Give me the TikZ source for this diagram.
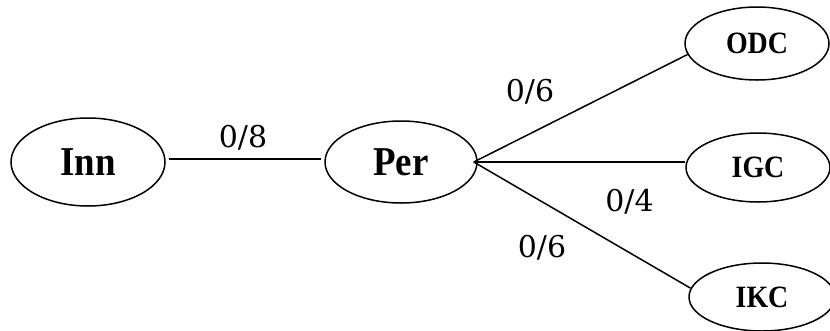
\documentclass[tikz,border=0pt]{standalone}
\usepackage{fontspec}
\setmainfont{Liberation Serif}
\newfontfamily\nodefont[FakeStretch=0.9]{Liberation Serif}
\newfontfamily\labfont{DejaVu Serif}
\usetikzlibrary{shapes.geometric}
\tikzset{
  ent/.style={draw=black, line width=1.5pt, ellipse, inner sep=0pt, fill=white},
  bigent/.style={ent, font=\nodefont\fontsize{41}{44}\selectfont\bfseries},
  smallent/.style={ent, font=\nodefont\fontsize{31}{34}\selectfont\bfseries},
  wt/.style={font=\labfont\fontsize{30}{34}\selectfont, inner sep=0pt},
  link/.style={draw=black, line width=1.5pt}
}
\begin{document}
\begin{tikzpicture}[x=1pt, y=-1pt]
\useasboundingbox (0,0) rectangle (830,330);
\node[bigent, minimum width=154pt, minimum height=88pt] (inn) at (88,162) {Inn};
\node[bigent, minimum width=152pt, minimum height=82pt] (per) at (401,162) {Per};
\node[smallent, minimum width=144pt, minimum height=73pt] (odc) at (757,43.5) {ODC};
\node[smallent, minimum width=144pt, minimum height=69pt] (igc) at (758,167.5) {IGC};
\node[smallent, minimum width=146pt, minimum height=68pt] (ikc) at (762,297) {IKC};
\draw[link] ([yshift=3pt,xshift=3pt]inn.east) -- ([yshift=3pt,xshift=-3pt]per.west);
\draw[link] ([xshift=-4pt]per.east) -- (odc.189);
\draw[link] ([xshift=-4pt]per.east) -- (igc.west |- per.east);
\draw[link] ([xshift=-4pt]per.east) -- (ikc.173);
\node[wt] (w1) at (243,138) {0/8};
\node[wt] (w2) at (530,92) {0/6};
\node[wt] (w3) at (629.5,202) {0/4};
\node[wt] (w4) at (542,247.5) {0/6};
\end{tikzpicture}
\end{document}
